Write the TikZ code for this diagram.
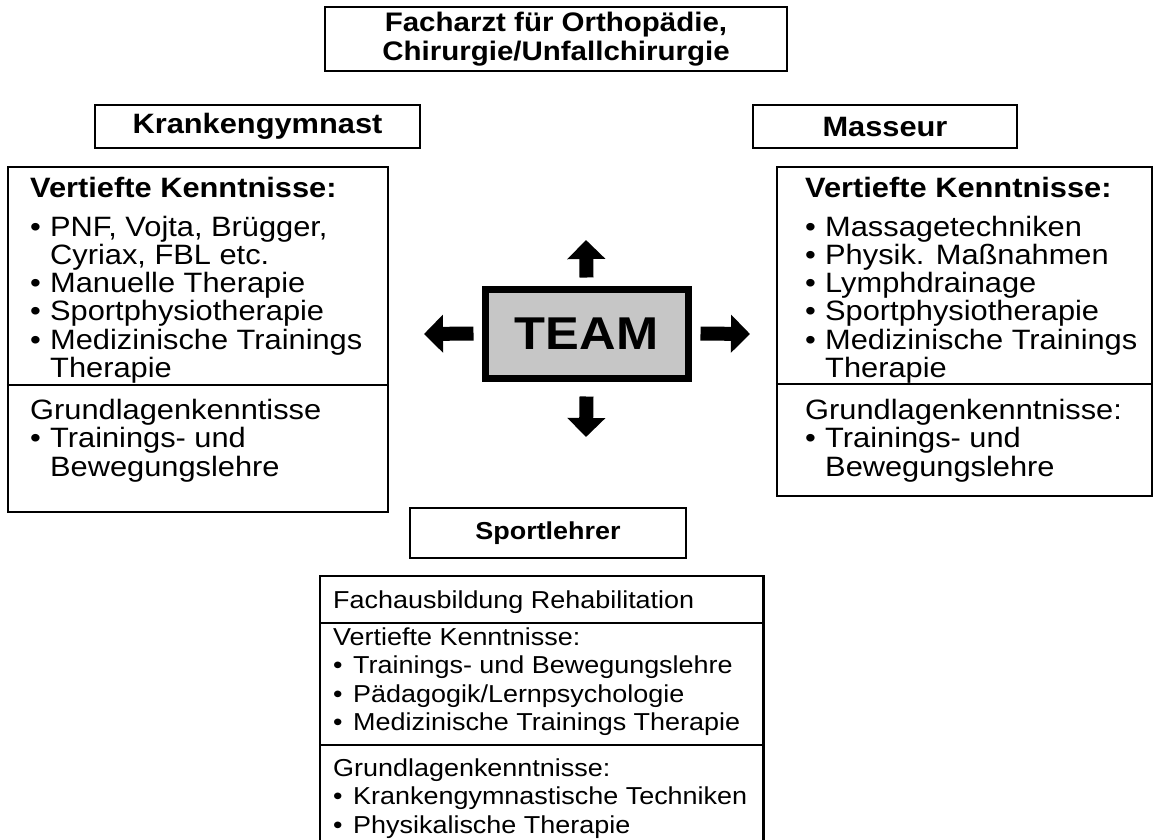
\documentclass[tikz,border=0pt]{standalone}
\usepackage{fontspec}
\setmainfont{Liberation Sans}[FakeStretch=1.1]
\usetikzlibrary{arrows.meta}

\newcommand{\bul}{\makebox[20pt][l]{\textbullet}}
\newcommand{\nobul}{\hspace*{20pt}}

\begin{document}
\begin{tikzpicture}[x=1pt,y=-1pt,
    every node/.style={inner sep=0pt, font=\fontsize{28}{28.3}\selectfont},
    headbox/.style={draw, line width=2.5pt, align=center, font=\fontsize{28}{28.3}\selectfont\bfseries},
    listbox/.style={draw, line width=2.5pt},
    listtext/.style={anchor=north west, align=left},
    smalltext/.style={font=\fontsize{24.5}{28.5}\selectfont},
    splitline/.style={line width=1.5pt},
    bigarrow/.style={line width=14pt, -{Triangle[width=37pt,length=19pt]}}]
    \useasboundingbox (0,0) rectangle (1154,839);

    \node[headbox, minimum width=462pt, minimum height=64pt, font=\fontsize{26.8}{28.5}\selectfont\bfseries] (arzt) at (556,39) {Facharzt für Orthopädie,\\Chirurgie/Unfallchirurgie};
    \node[headbox, minimum width=325pt, minimum height=43pt] (kgHead) at (257.5,126.5) {Krankengymnast};
    \node[headbox, minimum width=264pt, minimum height=43pt] (msHead) at (885,126.5) {Masseur};
    \node[headbox, minimum width=276pt, minimum height=50pt, font=\fontsize{24.5}{28.5}\selectfont\bfseries] (slHead) at (548,533) {Sportlehrer};

    \node[listbox, minimum width=380pt, minimum height=345pt] (kgBox) at (198,339.5) {};
    \node[listbox, minimum width=375pt, minimum height=329pt] (msBox) at (964.5,331.5) {};
    \node[minimum width=443pt, minimum height=264pt, anchor=north west] (slBox) at (320,576) {};
    \draw[line width=2.5pt] (slBox.south west) -- (slBox.north west) -- (slBox.north east) -- (slBox.south east);

    \coordinate (kgSplit) at (198,385);
    \coordinate (msSplit) at (964,384);
    \coordinate (slSplitA) at (541,623);
    \coordinate (slSplitB) at (541,745);
    \draw[splitline] (kgBox.west |- kgSplit) -- (kgBox.east |- kgSplit);
    \draw[splitline] (msBox.west |- msSplit) -- (msBox.east |- msSplit);
    \draw[splitline] (slBox.west |- slSplitA) -- (slBox.east |- slSplitA);
    \draw[splitline] (slBox.west |- slSplitB) -- (slBox.east |- slSplitB);

    \node[listtext] (kgDeep) at (30,176.6) {{\bfseries Vertiefte Kenntnisse:}\\[10.7pt]
        \bul PNF, Vojta, Brügger,\\ \nobul Cyriax, FBL etc.\\ \bul Manuelle Therapie\\
        \bul Sportphysiotherapie\\ \bul Medizinische Trainings\\ \nobul Therapie};
    \node[listtext] (kgBase) at (30,399) {Grundlagenkenntisse\\ \bul Trainings- und\\ \nobul Bewegungslehre};

    \node[listtext] (msDeep) at (805,176.6) {{\bfseries Vertiefte Kenntnisse:}\\[10.7pt]
        \bul Massagetechniken\\ \bul Physik. Maßnahmen\\ \bul Lymphdrainage\\
        \bul Sportphysiotherapie\\ \bul Medizinische Trainings\\ \nobul Therapie};
    \node[listtext] (msBase) at (805,399) {Grundlagenkenntnisse:\\ \bul Trainings- und\\ \nobul Bewegungslehre};

    \node[listtext, smalltext] (slFach) at (333,590.5) {Fachausbildung Rehabilitation};
    \node[listtext, smalltext] (slDeep) at (333,627.5) {Vertiefte Kenntnisse:\\ \bul Trainings- und Bewegungslehre\\
        \bul Pädagogik/Lernpsychologie\\ \bul Medizinische Trainings Therapie};
    \node[listtext, smalltext] (slBase) at (333,758.5) {Grundlagenkenntnisse:\\ \bul Krankengymnastische Techniken\\
        \bul Physikalische Therapie};

    \node[draw, line width=7pt, fill=gray!45, minimum width=203pt, minimum height=89pt,
          font=\fontsize{46}{46}\selectfont\bfseries] (team) at (586.5,333.5) {TEAM};

    \coordinate (upTip) at (586,240);
    \coordinate (downTip) at (586,437);
    \coordinate (leftTip) at (424,334);
    \coordinate (rightTip) at (750,334);
    \draw[bigarrow] ([yshift=8pt]team.north) -- (upTip);
    \draw[bigarrow] ([yshift=-15pt]team.south) -- (downTip);
    \draw[bigarrow] ([xshift=-8pt]team.west) -- (leftTip);
    \draw[bigarrow] ([xshift=9pt]team.east) -- (rightTip);
\end{tikzpicture}
\end{document}
